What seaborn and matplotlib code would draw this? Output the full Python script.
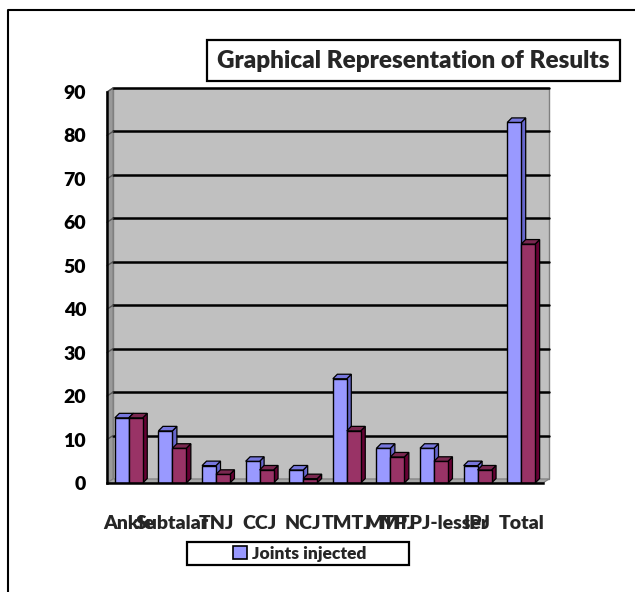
import matplotlib
matplotlib.use("Agg")
import matplotlib.pyplot as plt
import seaborn as sns
import pandas as pd
import numpy as np
from matplotlib.patches import Rectangle, Polygon, Patch
from matplotlib.lines import Line2D

# ---- data ----
categories = ["Ankle", "Subtalar", "TNJ", "CCJ", "NCJ", "TMTJ", "MTPJ", "MTPJ-lesser", "IPJ", "Total"]
joints_injected = [15, 12, 4, 5, 3, 24, 8, 8, 4, 83]
second_series = [15, 8, 2, 3, 1, 12, 6, 5, 3, 55]
series_names = ["Joints injected", "Second series"]
y_ticks = [0, 10, 20, 30, 40, 50, 60, 70, 80, 90]
title_text = "Graphical Representation of Results"

df = pd.DataFrame({
    "cat": categories * 2,
    "value": joints_injected + second_series,
    "series": [series_names[0]] * len(categories) + [series_names[1]] * len(categories),
})

sns.set_theme(style="white")
FONT = ["Lato", "DejaVu Sans"]
WEIGHT = "heavy"
plt.rcParams["font.family"] = FONT
plt.rcParams["font.weight"] = WEIGHT

W, H = 635, 592
fig = plt.figure(figsize=(W / 100, H / 100), dpi=100)
fig.patch.set_facecolor("white")

# axes placement (pixels)
ax_l, ax_r, ax_t, ax_b = 107, 543, 92, 483
ax = fig.add_axes([ax_l / W, 1 - ax_b / H, (ax_r - ax_l) / W, (ax_b - ax_t) / H])
ax.set_facecolor("none")

colors = ["#9999FF", "#993366"]
sns.barplot(data=df, x="cat", y="value", hue="series", order=categories,
            hue_order=series_names, palette=colors, width=0.64,
            edgecolor="black", linewidth=1.0, saturation=1, ax=ax, legend=False,
            zorder=3)

ax.set_xlim(-0.5, len(categories) - 0.5)
ax.set_ylim(0, 90)

axw = ax_r - ax_l
axh = ax_b - ax_t
# 3D depth for back wall (pixels)
wdx, wdy = 6 / axw, 4 / axh
# back wall
ax.add_patch(Polygon([(wdx, wdy), (1 + wdx, wdy), (1 + wdx, 1 + wdy), (wdx, 1 + wdy)],
                     closed=True, transform=ax.transAxes, facecolor="#C0C0C0",
                     edgecolor="#808080", linewidth=1.0, zorder=0, clip_on=False))
# side wall
ax.add_patch(Polygon([(0, 0), (wdx, wdy), (wdx, 1 + wdy), (0, 1)], closed=True,
                     transform=ax.transAxes, facecolor="#999999", edgecolor="#808080",
                     linewidth=0.8, zorder=0.5, clip_on=False))
# floor
ax.add_patch(Polygon([(0, 0), (1, 0), (1 + wdx, wdy), (wdx, wdy)], closed=True,
                     transform=ax.transAxes, facecolor="#A6A6A6", edgecolor="#808080",
                     linewidth=0.8, zorder=0.5, clip_on=False))
# gridlines on back wall
for v in y_ticks[1:]:
    yf = v / 90 + wdy
    ax.plot([wdx, 1 + wdx], [yf, yf], transform=ax.transAxes, color="black",
            linewidth=1.8, zorder=1, clip_on=False)
    ax.plot([0, wdx], [v / 90, yf], transform=ax.transAxes, color="#555555",
            linewidth=1.0, zorder=1, clip_on=False)

# bar depth (tops and sides)
bdx, bdy = 4.5 / axw, 4.5 / axh
to_axes = ax.transData + ax.transAxes.inverted()
dark = {colors[0]: ("#6666CC", "#7777DD"), colors[1]: ("#660033", "#7A2850")}
for cont, col in zip(ax.containers, colors):
    side_c, top_c = dark[col]
    for p in cont.patches:
        x0, y0 = p.get_x(), p.get_y()
        x1, y1 = x0 + p.get_width(), y0 + p.get_height()
        (ax0, ay0) = to_axes.transform((x0, y0))
        (ax1, ay1) = to_axes.transform((x1, y1))
        ax.add_patch(Polygon([(ax0, ay1), (ax1, ay1), (ax1 + bdx, ay1 + bdy), (ax0 + bdx, ay1 + bdy)],
                             closed=True, transform=ax.transAxes, facecolor=top_c,
                             edgecolor="black", linewidth=0.9, zorder=3, clip_on=False))
        ax.add_patch(Polygon([(ax1, ay0), (ax1 + bdx, ay0 + bdy), (ax1 + bdx, ay1 + bdy), (ax1, ay1)],
                             closed=True, transform=ax.transAxes, facecolor=side_c,
                             edgecolor="black", linewidth=0.9, zorder=2.9, clip_on=False))

# spines
for s in ["top", "right"]:
    ax.spines[s].set_visible(False)
for s in ["left", "bottom"]:
    ax.spines[s].set_color("black")
    ax.spines[s].set_linewidth(1.8)
    ax.spines[s].set_zorder(5)

ax.set_yticks(y_ticks)
ax.set_yticklabels([str(v) for v in y_ticks], fontsize=14, fontweight=WEIGHT)
ax.tick_params(axis="y", direction="inout", length=8, width=1.8, pad=11, colors="black")

ax.set_xticks(range(len(categories)))
ax.set_xticklabels(categories, fontsize=14, fontweight=WEIGHT)
ax.set_xticks(np.arange(-0.5, len(categories)), minor=True)
ax.tick_params(axis="x", which="major", length=0, pad=23)
ax.tick_params(axis="x", which="minor", direction="out", length=7, width=1.8, colors="black")
ax.set_xlabel("")
ax.set_ylabel("")

# outer frame lines (left & top)
fig.add_artist(Line2D([8 / W, 8 / W, 1], [0, 1 - 10 / H, 1 - 10 / H],
                      transform=fig.transFigure, color="black", linewidth=1.5))

# title box
fig.add_artist(Rectangle((207 / W, 1 - 81 / H), (620 - 207) / W, (81 - 40) / H,
                         transform=fig.transFigure, facecolor="white",
                         edgecolor="black", linewidth=1.6))
fig.text(413.5 / W, 1 - 61 / H, title_text, ha="center", va="center",
         fontsize=17.5, fontweight=WEIGHT, family=FONT)

# legend box
fig.add_artist(Rectangle((187 / W, 1 - 565 / H), (409 - 187) / W, (565 - 542) / H,
                         transform=fig.transFigure, facecolor="white",
                         edgecolor="black", linewidth=1.6))
handle = Patch(facecolor=colors[0], edgecolor="black", linewidth=1.2)
fig.legend([handle], [series_names[0]], loc="center",
           bbox_to_anchor=(300 / W, 1 - 553.5 / H), frameon=False,
           prop={"weight": WEIGHT, "size": 12.5, "family": FONT},
           handlelength=0.8, handleheight=0.8, handletextpad=0.3, borderpad=0)

fig.savefig("out.png", dpi=100)
